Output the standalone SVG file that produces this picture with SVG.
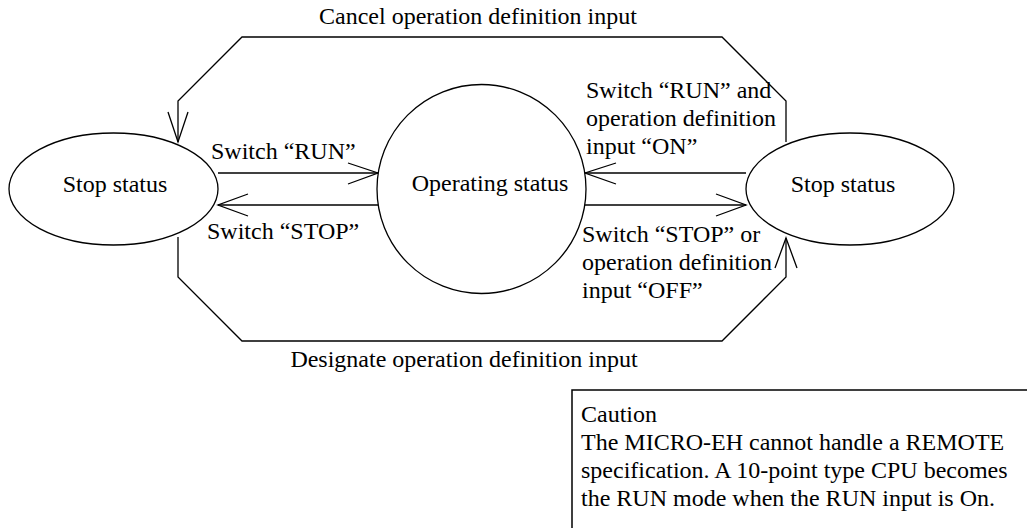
<svg xmlns="http://www.w3.org/2000/svg" width="1027" height="528" viewBox="0 0 1027 528">
<style>
.s{fill:none;stroke:#000;stroke-width:1.3}
.n{fill:#fff;stroke:#000;stroke-width:1.3}
text{font-family:"Liberation Serif","Times New Roman",serif;font-size:24px;fill:#000}
.m{text-anchor:middle}
</style>
<rect width="1027" height="528" fill="#fff"/>
<g id="connectors">
<polyline class="s" points="178,142 178,101 242,37 722,37 786,101 786,142"/>
<polyline class="s" points="168,112 178,142 188,112"/>
<polyline class="s" points="178,237 178,277 242,341 722,341 786,277 786,238"/>
<polyline class="s" points="775,268 786,238 797,268"/>
<line class="s" x1="218" y1="173" x2="378" y2="173"/>
<polyline class="s" points="348,163 378,173 348,184"/>
<line class="s" x1="378" y1="205" x2="218" y2="205"/>
<polyline class="s" points="248,194 218,205 248,216"/>
<line class="s" x1="746" y1="173" x2="585" y2="173"/>
<polyline class="s" points="616,163 585,173 616,184"/>
<line class="s" x1="585" y1="205" x2="746" y2="205"/>
<polyline class="s" points="716,194 746,205 716,216"/>
<text class="m" x="478" y="24">Cancel operation definition input</text>
<text class="m" x="464" y="367">Designate operation definition input</text>
<text x="211" y="159">Switch “RUN”</text>
<text x="207" y="239">Switch “STOP”</text>
<text x="586" y="98">Switch “RUN” and</text>
<text x="586" y="126">operation definition</text>
<text x="586" y="154">input “ON”</text>
<text x="582" y="242">Switch “STOP” or</text>
<text x="582" y="270">operation definition</text>
<text x="582" y="298">input “OFF”</text>
</g>
<g id="stop-left">
<ellipse class="n" cx="113.5" cy="189" rx="104.5" ry="56"/>
<text class="m" x="115" y="192">Stop status</text>
</g>
<g id="operating">
<circle class="n" cx="481.5" cy="189" r="104.5"/>
<text class="m" x="490" y="191">Operating status</text>
</g>
<g id="stop-right">
<ellipse class="n" cx="850" cy="189" rx="104" ry="56"/>
<text class="m" x="843" y="192">Stop status</text>
</g>
<g id="caution">
<rect class="s" x="572" y="390" width="500" height="200" style="stroke-width:1.5"/>
<text x="581" y="422">Caution</text>
<text x="581" y="450">The MICRO-EH cannot handle a REMOTE</text>
<text x="581" y="478">specification. A 10-point type CPU becomes</text>
<text x="581" y="506">the RUN mode when the RUN input is On.</text>
</g>
</svg>
